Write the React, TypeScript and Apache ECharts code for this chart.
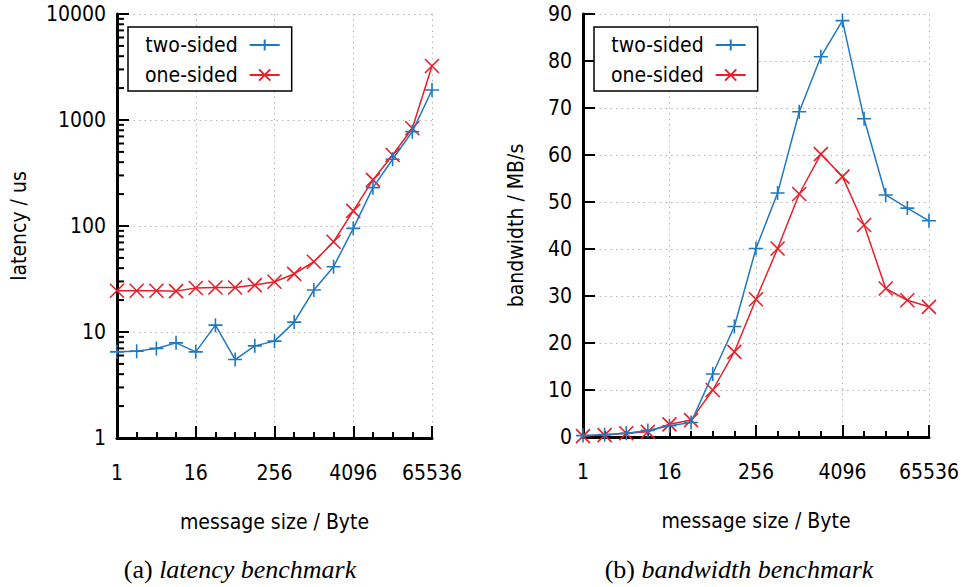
import React, { useEffect, useRef } from "react";
import * as echarts from "echarts";

const sizes = [1, 2, 4, 8, 16, 32, 64, 128, 256, 512, 1024, 2048, 4096, 8192, 16384, 32768, 65536];
const latencyTwoSided = [6.5, 6.6, 7.0, 7.9, 6.5, 11.6, 5.5, 7.4, 8.2, 12.4, 24.9, 41.3, 95, 230, 426, 776, 1919];
const latencyOneSided = [24.5, 24.5, 24.5, 24.3, 26.0, 26.3, 26.3, 27.7, 29.8, 35.3, 46, 71, 139, 272, 468, 835, 3230];
const bandwidthTwoSided = [0.3, 0.5, 0.8, 1.4, 2.4, 3.1, 13.4, 23.5, 40.1, 51.9, 69.2, 80.9, 88.6, 67.7, 51.5, 48.7, 46.0];
const bandwidthOneSided = [0.2, 0.4, 0.8, 1.1, 2.7, 3.6, 10.0, 18.1, 29.3, 40.1, 51.7, 60.2, 55.4, 45.1, 31.6, 29.1, 27.7];
const xTickLabels = ["1", "16", "256", "4096", "65536"];
const latencyMinorTicks = [2, 3, 4, 5, 6, 7, 8, 9, 20, 30, 40, 50, 60, 70, 80, 90, 200, 300, 400, 500, 600, 700, 800, 900, 2000, 3000, 4000, 5000, 6000, 7000, 8000, 9000];
const seriesNames = ["two-sided", "one-sided"];

const BLUE = "#2079c0";
const RED = "#e8202a";
const FONT = "'DejaVu Sans Condensed', 'Liberation Sans Narrow', sans-serif";
const SERIF = "'Liberation Serif', 'DejaVu Serif', serif";
const PLUS = "path://M0,7L14,7M7,0L7,14";
const CROSS = "path://M0,0L14,14M14,0L0,14";
const FS = 21;

const toPoints = (vals: number[]) => sizes.map((s, i) => [Math.log2(s), vals[i]]);

const gridLine = { show: true, lineStyle: { color: "#b4b4b4", width: 1, type: [1.5, 4] as any } };

function xAxis(gridIndex: number) {
  return {
    type: "value",
    gridIndex,
    min: 0,
    max: 16,
    interval: 4,
    name: "message size / Byte",
    nameLocation: "middle",
    nameGap: 73,
    nameTextStyle: { fontFamily: FONT, fontSize: FS, color: "#000" },
    axisLine: { show: true, lineStyle: { color: "#000", width: 3 } },
    axisTick: { show: true, inside: true, length: 12, lineStyle: { color: "#000", width: 2 } },
    minorTick: { show: true, splitNumber: 4, length: 6, lineStyle: { color: "#000", width: 2 } },
    axisLabel: {
      margin: 24,
      fontFamily: FONT,
      fontSize: FS,
      color: "#000",
      formatter: (v: number) => xTickLabels[Math.round(v / 4)] ?? "",
    },
    splitLine: gridLine,
  };
}

function lineSeries(name: string, data: number[][], color: string, symbol: string, xi: number, yi: number) {
  return {
    type: "line",
    name,
    xAxisIndex: xi,
    yAxisIndex: yi,
    data,
    symbol,
    symbolSize: 14,
    showAllSymbol: true,
    lineStyle: { color, width: 1.5 },
    itemStyle: { color: "rgba(0,0,0,0)", borderColor: color, borderWidth: 1.6 },
    emphasis: { disabled: true },
    z: name === "one-sided" ? 3 : 4,
  };
}

function legend(left: number) {
  return {
    left,
    top: 27,
    orient: "vertical",
    align: "right",
    data: seriesNames,
    itemWidth: 30,
    itemHeight: 14,
    itemGap: 6,
    padding: [6, 11, 4, 17],
    borderColor: "#000",
    borderWidth: 1.5,
    backgroundColor: "#fff",
    selectedMode: false,
    textStyle: { fontFamily: FONT, fontSize: FS, color: "#000", lineHeight: 24, padding: [0, 7, 0, 0] },
  };
}

const captionRich = {
  n: { fontFamily: SERIF, fontSize: 26, fill: "#000" },
  i: { fontFamily: SERIF, fontSize: 26, fontStyle: "italic", fill: "#000" },
};

export default function App() {
  const ref = useRef<HTMLDivElement>(null);
  useEffect(() => {
    if (!ref.current) return;
    const chart = echarts.init(ref.current, undefined, { renderer: "svg" });
    chart.setOption({
      animation: false,
      backgroundColor: "#fff",
      grid: [
        { left: 117, top: 14, width: 315, height: 424 },
        { left: 583, top: 14, width: 348, height: 423 },
      ],
      xAxis: [xAxis(0), xAxis(1)],
      yAxis: [
        {
          type: "log",
          gridIndex: 0,
          logBase: 10,
          min: 1,
          max: 10000,
          name: "latency / us",
          nameLocation: "middle",
          nameGap: 88,
          nameTextStyle: { fontFamily: FONT, fontSize: FS, color: "#000" },
          axisLine: { show: true, lineStyle: { color: "#000", width: 3 } },
          axisTick: { show: true, inside: true, length: 12, lineStyle: { color: "#000", width: 2 } },
          axisLabel: {
            margin: 11,
            fontFamily: FONT,
            fontSize: FS,
            color: "#000",
            formatter: (v: number) => String(Math.round(v)),
          },
          splitLine: gridLine,
        },
        {
          type: "value",
          gridIndex: 1,
          min: 0,
          max: 90,
          interval: 10,
          name: "bandwidth / MB/s",
          nameLocation: "middle",
          nameGap: 57,
          nameTextStyle: { fontFamily: FONT, fontSize: FS, color: "#000" },
          axisLine: { show: true, lineStyle: { color: "#000", width: 3 } },
          axisTick: { show: true, inside: true, length: 12, lineStyle: { color: "#000", width: 2 } },
          axisLabel: { margin: 11, fontFamily: FONT, fontSize: FS, color: "#000" },
          splitLine: gridLine,
        },
      ],
      legend: [legend(128), legend(594)],
      series: [
        {
          type: "custom",
          xAxisIndex: 0,
          yAxisIndex: 0,
          silent: true,
          data: latencyMinorTicks.map((v) => [0, v]),
          renderItem: (params: any, api: any) => {
            const p = api.coord([api.value(0), api.value(1)]);
            return {
              type: "line",
              shape: { x1: p[0], y1: p[1], x2: p[0] + 7, y2: p[1] },
              style: { stroke: "#000", lineWidth: 2 },
            };
          },
          z: 5,
        },
        lineSeries("two-sided", toPoints(latencyTwoSided), BLUE, PLUS, 0, 0),
        lineSeries("one-sided", toPoints(latencyOneSided), RED, CROSS, 0, 0),
        lineSeries("two-sided", toPoints(bandwidthTwoSided), BLUE, PLUS, 1, 1),
        lineSeries("one-sided", toPoints(bandwidthOneSided), RED, CROSS, 1, 1),
      ],
      graphic: [
        {
          type: "text",
          x: 240,
          y: 569,
          style: {
            text: "{n|(a) }{i|latency benchmark}",
            align: "center",
            verticalAlign: "middle",
            rich: captionRich,
          },
        },
        {
          type: "text",
          x: 739,
          y: 569,
          style: {
            text: "{n|(b) }{i|bandwidth benchmark}",
            align: "center",
            verticalAlign: "middle",
            rich: captionRich,
          },
        },
      ],
    });
    return () => chart.dispose();
  }, []);
  return <div ref={ref} style={{ position: "fixed", left: 0, top: 0, width: 962, height: 587 }} />;
}
